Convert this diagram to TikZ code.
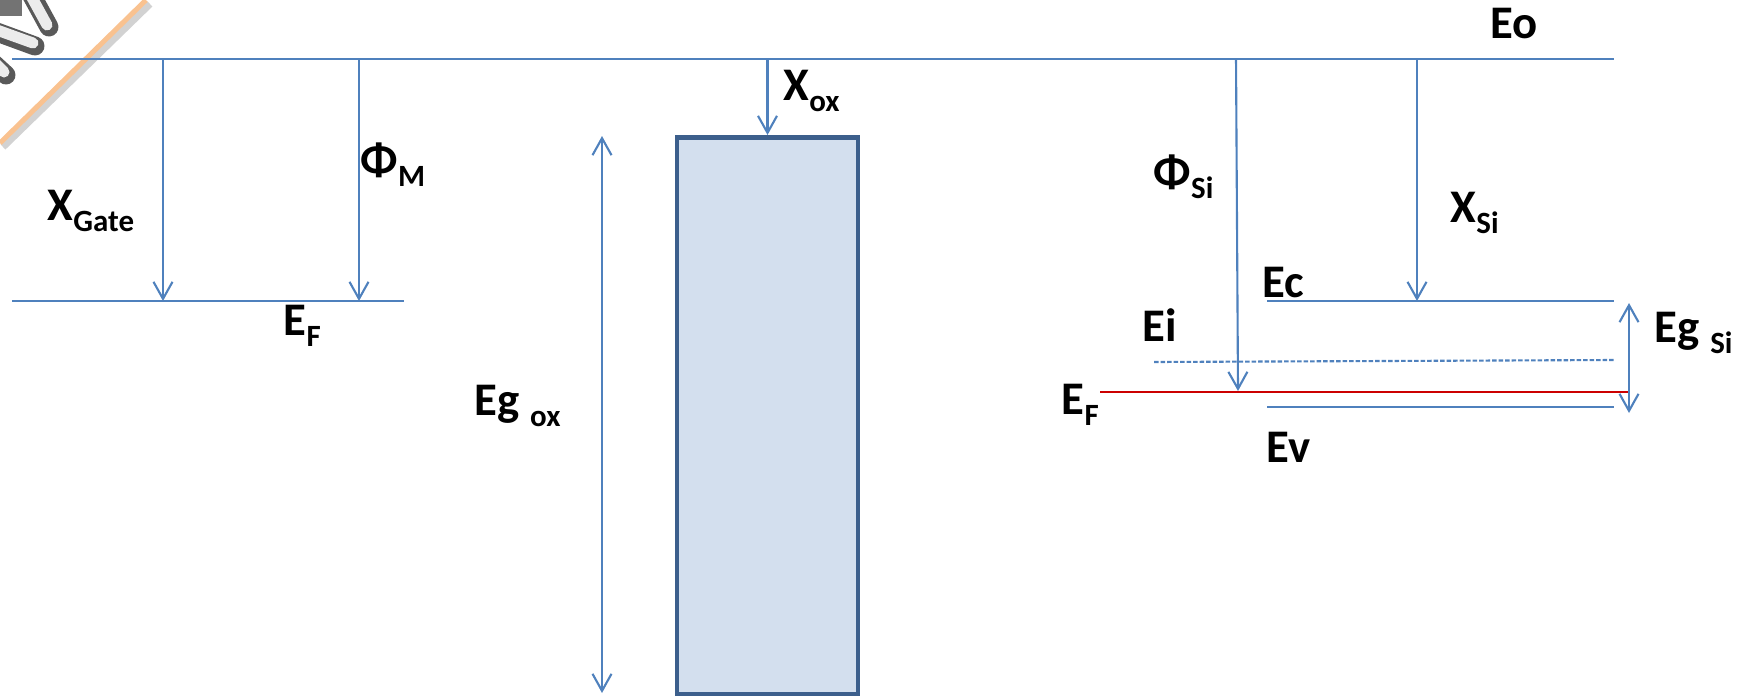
\documentclass[tikz,border=0pt]{standalone}
\usepackage{fontspec}
\setmainfont{Carlito}
\usetikzlibrary{arrows.meta}
\definecolor{lineblue}{HTML}{4F81BD}
\definecolor{boxblue}{HTML}{3C5F8C}
\definecolor{boxfill}{HTML}{D3DFEE}
\definecolor{fermired}{HTML}{CC0000}
\definecolor{logoorange}{HTML}{F9C290}
\newcommand{\lowsub}[1]{\raisebox{-3.3pt}{\fontsize{8.8}{10}\selectfont #1}}
\tikzset{
  lvl/.style={lineblue, line width=0.6pt},
  arr/.style={lvl, -{Straight Barb[length=1.7mm, width=1.9mm]}},
  darr/.style={lvl, {Straight Barb[length=1.7mm, width=1.9mm]}-{Straight Barb[length=1.7mm, width=1.9mm]}},
  lbl/.style={anchor=base west, inner sep=0pt, font=\bfseries\fontsize{13.3}{16}\selectfont},
  oxbox/.style={draw=boxblue, fill=boxfill, line width=1.4pt, anchor=north,
    minimum width=18.1mm, minimum height=55.7mm, inner sep=0pt},
  logodark/.style={black!65, line width=1.9mm, line cap=round},
  logolight/.style={gray!15, line width=1.1mm, line cap=round},
}
\begin{document}
\begin{tikzpicture}[x=0.1mm, y=-0.1mm]
  \clip (0,0) rectangle (1743,695);
  % Logo corner
  \fill[black!55] (0,0) rectangle (22,16);
  \draw[logodark] (31,-6) -- (49,27);
  \draw[logolight] (30,-6) -- (47,25);
  \draw[logodark] (-6,31) -- (35,46);
  \draw[logolight] (-6,29) -- (33,43);
  \draw[logodark] (-6,64) -- (6,75);
  \draw[logolight] (-6,62) -- (4,72);
  \draw[gray!35, line width=0.7mm] (3,147) -- (150,4);
  \draw[logoorange, line width=0.5mm] (0,143) -- (146,0);
  % Vacuum level
  \coordinate (vacL) at (12,59);
  \coordinate (vacR) at (1614,59);
  \draw[lvl] (vacL) -- (vacR);
  \node[lbl] (eo) at (1490,38) {Eo};
  % Metal side
  \coordinate (mfL) at (12,301);
  \coordinate (mfR) at (404,301);
  \draw[lvl] (mfL) -- (mfR);
  \coordinate (xgTop) at (163,59);
  \coordinate (xgBot) at (163,301);
  \coordinate (phmTop) at (359,59);
  \coordinate (phmBot) at (359,301);
  \draw[arr] (xgTop) -- (xgBot);
  \draw[arr] (phmTop) -- (phmBot);
  \node[lbl] (xgate) at (47,220) {X\lowsub{Gate}};
  \node[lbl] (phim) at (360,175) {Φ\lowsub{M}};
  \node[lbl] (efm) at (283,335) {E\lowsub{F}};
  % Oxide
  \node[oxbox] (ox) at (767.5,135) {};
  \coordinate (xoxTop) at (767.5,59);
  \draw[arr] (xoxTop) -- (ox.north);
  \node[lbl] (xox) at (783,100) {X\lowsub{ox}};
  \coordinate (egoxTop) at (602,136);
  \coordinate (egoxBot) at (602,693);
  \draw[darr] (egoxTop) -- (egoxBot);
  \node[lbl] (egox) at (474,415) {Eg \lowsub{ox}};
  % Silicon side
  \coordinate (ecL) at (1267,301);
  \coordinate (ecR) at (1614,301);
  \coordinate (eiL) at (1154,362);
  \coordinate (eiR) at (1614,360);
  \coordinate (efL) at (1100,392);
  \coordinate (efR) at (1628,392);
  \coordinate (evL) at (1267,407);
  \coordinate (evR) at (1614,407);
  \draw[lvl] (ecL) -- (ecR);
  \draw[lvl, dash pattern=on 0.45mm off 0.2mm] (eiL) -- (eiR);
  \draw[fermired, line width=0.7pt] (efL) -- (efR);
  \draw[lvl] (evL) -- (evR);
  \coordinate (phsTop) at (1236,59);
  \coordinate (phsBot) at (1238,391);
  \coordinate (xsTop) at (1417,59);
  \coordinate (xsBot) at (1417,301);
  \draw[arr] (phsTop) -- (phsBot);
  \draw[arr] (xsTop) -- (xsBot);
  \coordinate (egsTop) at (1629,303);
  \coordinate (egsBot) at (1629,413);
  \draw[darr] (egsTop) -- (egsBot);
  \node[lbl] (phisi) at (1153,187) {Φ\lowsub{Si}};
  \node[lbl] (xsi) at (1450,222) {X\lowsub{Si}};
  \node[lbl] (ec) at (1262,297) {Ec};
  \node[lbl] (ei) at (1142,341) {Ei};
  \node[lbl] (efs) at (1061,414) {E\lowsub{F}};
  \node[lbl] (ev) at (1266,462) {Ev};
  \node[lbl] (egsi) at (1654,342) {Eg \lowsub{Si}};
\end{tikzpicture}
\end{document}
